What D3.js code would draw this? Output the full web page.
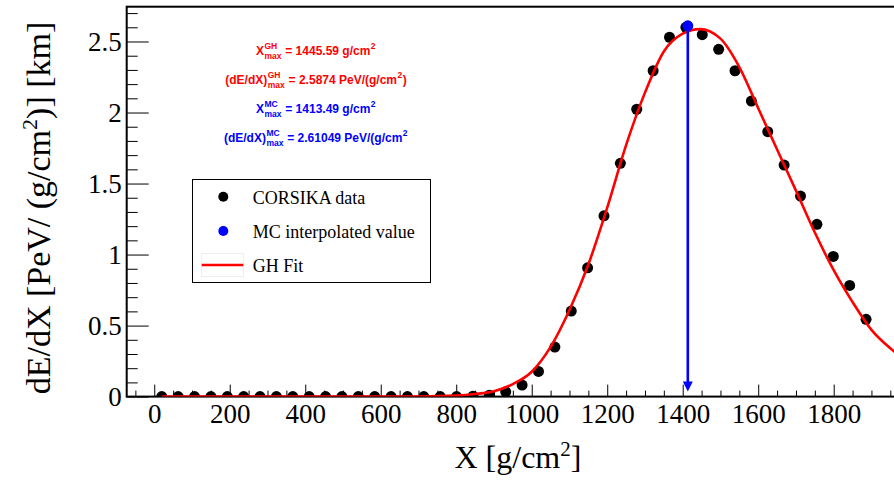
<!DOCTYPE html>
<html><head><meta charset="utf-8">
<script src="https://cdn.jsdelivr.net/npm/d3@7"></script>
<style>body{margin:0;background:#fff} svg{display:block}</style>
</head><body>
<svg id="c" width="894" height="480"></svg>
<script>
// ---- data ----
const depthX = [19.9, 63.3, 106.7, 150.1, 193.5, 236.9, 280.2, 323.6, 367.0, 410.4,
  453.8, 497.2, 540.6, 584.0, 627.4, 670.8, 714.1, 757.5, 800.9, 844.3,
  887.7, 931.1, 974.5, 1017.9, 1061.3, 1104.7, 1148.0, 1191.4, 1234.8, 1278.2,
  1321.6, 1365.0, 1408.4, 1451.8, 1495.2, 1538.6, 1581.9, 1625.3, 1668.7, 1712.1,
  1755.5, 1798.9, 1842.3, 1885.7];
const dEdX = [0, 0, 0, 0, 0, 0, 0, 0, 0, 0,
  0, 0, 0, 0, 0, 0, 0, 0, 0, 0.003,
  0.010, 0.034, 0.081, 0.177, 0.349, 0.602, 0.907, 1.273, 1.642, 2.023,
  2.294, 2.530, 2.600, 2.548, 2.445, 2.294, 2.081, 1.865, 1.630, 1.412,
  1.213, 0.987, 0.783, 0.544];
const fitX = [20, 600, 700, 800, 850, 900, 950, 1000, 1050, 1100, 1150, 1200, 1250, 1300,
  1350, 1400, 1445.59, 1500, 1550, 1600, 1650, 1700, 1750, 1800, 1850, 1900, 1950, 2000];
const fitY = [0, 0, 0.001, 0.007, 0.018, 0.038, 0.088, 0.175, 0.35, 0.61, 0.93, 1.33, 1.77, 2.14,
  2.43, 2.555, 2.5874, 2.52, 2.32, 2.03, 1.74, 1.45, 1.155, 0.89, 0.665, 0.47, 0.34, 0.24];
const mcX = [1413.49];
const mcY = [2.61049];
const xTickValues = [0, 200, 400, 600, 800, 1000, 1200, 1400, 1600, 1800];
const xTickLabels = ["0", "200", "400", "600", "800", "1000", "1200", "1400", "1600", "1800"];
const yTickValues = [0, 0.5, 1, 1.5, 2, 2.5];
const yTickLabels = ["0", "0.5", "1", "1.5", "2", "2.5"];
const legendLabels = ["CORSIKA data", "MC interpolated value", "GH Fit"];

// ---- layout ----
const svg = d3.select("#c");
const L = 126.7, R = 909.2, T = 6.7, B = 396.6;
const x = d3.scaleLinear().domain([-73, 2000]).range([L, R]);
const y = d3.scaleLinear().domain([0, 2.745]).range([B, T]);
const serif = "'Liberation Serif', 'Times New Roman', serif";
const sans = "'Liberation Sans', Arial, Helvetica, sans-serif";

svg.append("rect").attr("width", 894).attr("height", 480).attr("fill", "#fff");

// minor ticks
const xMinor = d3.range(-50, 2000, 50).filter(v => !xTickValues.includes(v));
const yMinor = d3.range(0, 2.74, 0.1).map(v => +v.toFixed(1)).filter(v => !yTickValues.includes(v));

const gx = svg.append("g").attr("transform", `translate(0,${B})`);
gx.call(d3.axisBottom(x).tickValues(xMinor).tickSize(-6).tickFormat(""));
gx.call(g => g.select(".domain").remove());
const gx2 = svg.append("g").attr("transform", `translate(0,${B})`);
gx2.call(d3.axisBottom(x).tickValues(xTickValues).tickSize(-12).tickPadding(7)
  .tickFormat((d, i) => xTickLabels[i]));
gx2.call(g => g.select(".domain").remove());
gx2.selectAll("text").attr("font-family", serif).attr("font-size", 27).attr("fill", "#000");

const gy = svg.append("g").attr("transform", `translate(${L},0)`);
gy.call(d3.axisLeft(y).tickValues(yMinor).tickSize(-11).tickFormat(""));
gy.call(g => g.select(".domain").remove());
const gy2 = svg.append("g").attr("transform", `translate(${L},0)`);
gy2.call(d3.axisLeft(y).tickValues(yTickValues).tickSize(-22).tickPadding(5)
  .tickFormat((d, i) => yTickLabels[i]));
gy2.call(g => g.select(".domain").remove());
gy2.selectAll("text").attr("font-family", serif).attr("font-size", 27).attr("fill", "#000");
svg.selectAll(".tick line").attr("stroke", "#000").attr("stroke-width", 1);

// frame
svg.append("rect").attr("x", L).attr("y", T).attr("width", R - L).attr("height", B - T)
  .attr("fill", "none").attr("stroke", "#000").attr("stroke-width", 2);

// clip
svg.append("clipPath").attr("id", "clip").append("rect")
  .attr("x", L).attr("y", T).attr("width", R - L).attr("height", B - T);
const plot = svg.append("g").attr("clip-path", "url(#clip)");

// data points
plot.selectAll("circle.pt").data(depthX.map((d, i) => [d, dEdX[i]])).enter()
  .append("circle").attr("class", "pt")
  .attr("cx", d => x(d[0])).attr("cy", d => y(d[1])).attr("r", 5.5).attr("fill", "#000");

// fit curve
const line = d3.line().x(d => x(d[0])).y(d => y(d[1])).curve(d3.curveMonotoneX);
plot.append("path").datum(fitX.map((d, i) => [d, fitY[i]]))
  .attr("d", line).attr("fill", "none").attr("stroke", "#ff0000").attr("stroke-width", 2.6);

// MC arrow + point
const ax = x(mcX[0]);
const tipY = y(0) - 5;
plot.append("line").attr("x1", ax).attr("x2", ax).attr("y1", y(mcY[0])).attr("y2", tipY - 6)
  .attr("stroke", "#0000ff").attr("stroke-width", 2.6);
plot.append("path").attr("d", `M${ax - 5},${tipY - 10} L${ax + 5},${tipY - 10} L${ax},${tipY} Z`)
  .attr("fill", "#0000ff");
plot.append("circle").attr("cx", ax).attr("cy", y(mcY[0])).attr("r", 5.5).attr("fill", "#0000ff");

// axis titles
const xt = svg.append("text").attr("x", (L + R) / 2).attr("y", 468).attr("text-anchor", "middle")
  .attr("font-family", serif).attr("font-size", 32).attr("fill", "#000");
xt.append("tspan").text("X [g/cm");
xt.append("tspan").attr("font-size", 21).attr("dy", -12).text("2");
xt.append("tspan").attr("dy", 12).text("]");

const yt = svg.append("text").attr("transform", "translate(50,208) rotate(-90)")
  .attr("text-anchor", "middle").attr("font-family", serif).attr("font-size", 34).attr("fill", "#000");
yt.append("tspan").text("dE/dX [PeV/ (g/cm");
yt.append("tspan").attr("font-size", 22).attr("dy", -13).text("2");
yt.append("tspan").attr("dy", 13).text(")] [km]");

// annotations
function label(cy, color, parts) {
  const g = svg.append("g");
  let cx = 0;
  parts.forEach(p => {
    if (p.t !== undefined) {
      const t = g.append("text").attr("x", cx).attr("y", 0).attr("font-family", sans)
        .attr("font-weight", "bold").attr("font-size", 12).attr("fill", color)
        .style("white-space", "pre").text(p.t);
      cx += t.node().getComputedTextLength();
    } else {
      let w = 0;
      if (p.sup) {
        const t = g.append("text").attr("x", cx + 0.5).attr("y", -6.5).attr("font-family", sans)
          .attr("font-weight", "bold").attr("font-size", 8.5).attr("fill", color).text(p.sup);
        w = Math.max(w, t.node().getComputedTextLength());
      }
      if (p.sub) {
        const t = g.append("text").attr("x", cx + 0.5).attr("y", 3.5).attr("font-family", sans)
          .attr("font-weight", "bold").attr("font-size", 8.5).attr("fill", color).text(p.sub);
        w = Math.max(w, t.node().getComputedTextLength());
      }
      cx += w + 1;
    }
  });
  g.attr("transform", `translate(${316 - cx / 2},${cy})`);
}
label(55, "#ff0000", [{t: "X"}, {sup: "GH", sub: "max"}, {t: " = 1445.59 g/cm"}, {sup: "2"}]);
label(84, "#ff0000", [{t: "(dE/dX)"}, {sup: "GH", sub: "max"}, {t: " = 2.5874 PeV/(g/cm"}, {sup: "2"}, {t: ")"}]);
label(113, "#0000ff", [{t: "X"}, {sup: "MC", sub: "max"}, {t: " = 1413.49 g/cm"}, {sup: "2"}]);
label(142, "#0000ff", [{t: "(dE/dX)"}, {sup: "MC", sub: "max"}, {t: " = 2.61049 PeV/(g/cm"}, {sup: "2"}]);

// legend
const lg = svg.append("g");
lg.append("rect").attr("x", 192.5).attr("y", 179.5).attr("width", 238).attr("height", 103)
  .attr("fill", "#fff").attr("stroke", "#000").attr("stroke-width", 1);
lg.append("circle").attr("cx", 223.3).attr("cy", 196.7).attr("r", 5).attr("fill", "#000");
lg.append("circle").attr("cx", 223.3).attr("cy", 231).attr("r", 5).attr("fill", "#0000ff");
lg.append("rect").attr("x", 201.5).attr("y", 253.5).attr("width", 42).attr("height", 23)
  .attr("fill", "none").attr("stroke", "#eeeeee").attr("stroke-width", 1);
lg.append("line").attr("x1", 201.7).attr("x2", 243.3).attr("y1", 265).attr("y2", 265)
  .attr("stroke", "#ff0000").attr("stroke-width", 2.6);
[203.5, 237.5, 271.5].forEach((yy, i) => {
  lg.append("text").attr("x", 252.7).attr("y", yy).attr("font-family", serif)
    .attr("font-size", 18).attr("fill", "#000").text(legendLabels[i]);
});
</script>
</body></html>
